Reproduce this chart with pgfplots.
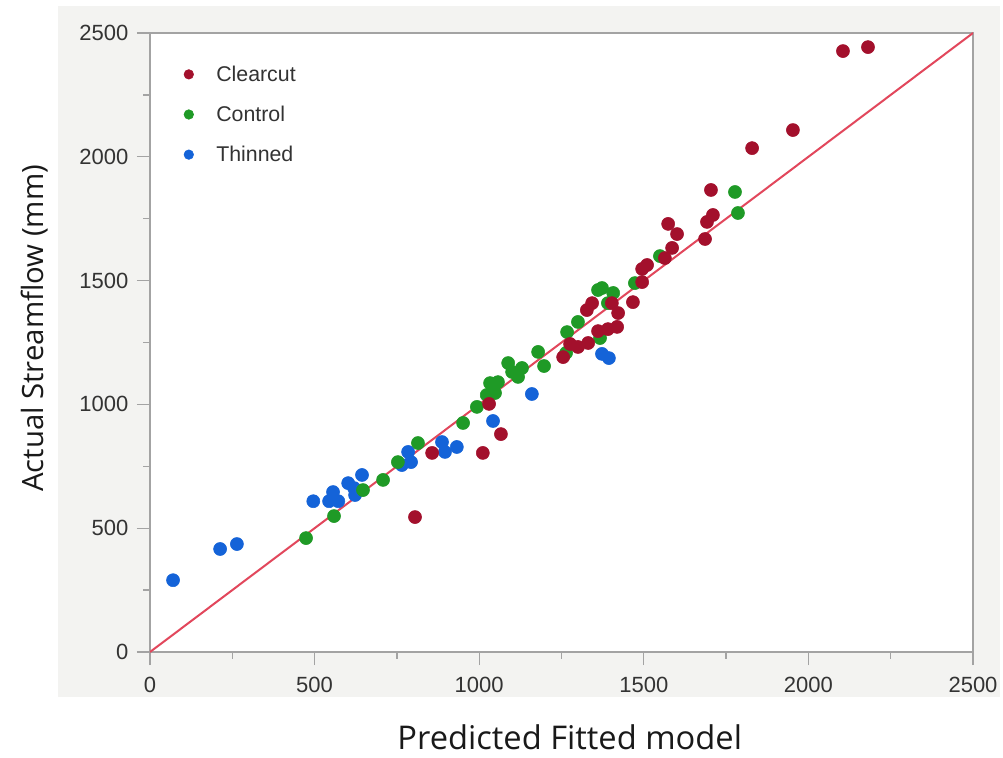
\documentclass[border=0pt]{standalone}
\usepackage{pgfplots}
\pgfplotsset{compat=1.18}
\usepackage{fontspec}
\setmainfont{Liberation Sans}
\newfontfamily\labelfont{Open Sans}
\definecolor{bgray}{HTML}{F3F3F1}
\definecolor{axgray}{HTML}{A3A3A3}
\definecolor{tickcol}{HTML}{333333}
\definecolor{cclear}{HTML}{A3102C}
\definecolor{ccontrol}{HTML}{1F9A26}
\definecolor{cthin}{HTML}{1463D8}
\definecolor{linecol}{HTML}{E2475C}
\begin{document}
\begin{tikzpicture}
\fill[bgray] (-69pt,-33.75pt) rectangle (637.5pt,484.5pt);
\begin{axis}[
  name=ax, at={(0,0)}, anchor=south west,
  scale only axis, width=617.25pt, height=464.25pt,
  xmin=0, xmax=2500, ymin=0, ymax=2500,
  xtick={0,500,...,2500}, ytick={0,500,...,2500},
  minor tick num=1,
  tick align=outside, xtick pos=lower, ytick pos=left,
  major tick length=9.75pt, minor tick length=5pt,
  axis line style={draw=axgray, line width=1.2pt},
  every tick/.style={draw=axgray, line width=1pt},
  ticklabel style={font=\fontsize{16.5}{18}\selectfont, text=tickcol},
  xticklabel style={yshift=-5.5pt},
  yticklabel style={xshift=-3pt},
  /pgf/number format/assume math mode=true,
  /pgf/number format/1000 sep={},
  axis background/.style={fill=white},
  xlabel={Predicted Fitted model},
  ylabel={Actual Streamflow (mm)},
  label style={text=black!90},
  xlabel style={font=\labelfont\fontsize{24.5}{28}\selectfont, at={(axis description cs:0.51,0)}, anchor=center, yshift=-64pt},
  ylabel style={font=\labelfont\fontsize{22}{26}\selectfont, at={(axis description cs:-0.1397,0.523)}, anchor=center},
  legend style={at={(axis description cs:0.041,0.952)}, anchor=north west, draw=none, fill=none,
    font=\fontsize{16}{18}\selectfont, text=tickcol, row sep=13pt, column sep=15pt, inner sep=0pt},
  legend cell align=left,
  legend image code/.code={\draw[#1] plot coordinates {(0.25cm,0cm)};},
]
\addlegendimage{only marks, mark=*, mark size=3.6pt, draw=cclear, fill=cclear}
\addlegendentry{Clearcut}
\addlegendimage{only marks, mark=*, mark size=3.6pt, draw=ccontrol, fill=ccontrol}
\addlegendentry{Control}
\addlegendimage{only marks, mark=*, mark size=3.6pt, draw=cthin, fill=cthin}
\addlegendentry{Thinned}

\addplot[forget plot, only marks, mark=*, mark size=4.9pt, draw=cthin, fill=cthin] coordinates {
(70,290) (213,416) (264,436) (496,609) (544,609) (556,646) (572,609) (602,682)
(620,662) (623,634) (644,715) (765,755) (784,808) (793,767) (887,848) (896,808)
(932,828) (1042,933) (1160,1042) (1373,1204) (1394,1187)
};
\addplot[forget plot, only marks, mark=*, mark size=4.9pt, draw=ccontrol, fill=ccontrol] coordinates {
(474,460) (559,549) (647,654) (708,695) (753,767) (814,844) (951,925) (993,990)
(1023,1038) (1033,1086) (1057,1090) (1048,1046) (1088,1167) (1100,1131) (1118,1111)
(1130,1147) (1179,1212) (1197,1155) (1264,1208) (1267,1292) (1300,1333) (1361,1462)
(1373,1470) (1407,1450) (1391,1409) (1367,1268) (1473,1490) (1549,1599) (1777,1858)
(1786,1773)
};
\addplot[forget plot, only marks, mark=*, mark size=4.9pt, draw=cclear, fill=cclear] coordinates {
(805,545) (857,804) (1011,804) (1030,1002) (1066,880) (1255,1191) (1276,1244)
(1300,1232) (1331,1248) (1361,1296) (1391,1304) (1419,1313) (1422,1369) (1327,1381)
(1343,1409) (1403,1409) (1467,1413) (1495,1494) (1495,1547) (1510,1563) (1564,1591)
(1586,1632) (1574,1729) (1601,1688) (1686,1668) (1692,1737) (1710,1765) (1704,1866)
(1829,2035) (1953,2108) (2105,2427) (2181,2443)
};
\addplot[forget plot, linecol, line width=1.5pt] coordinates {(0,0) (2500,2500)};
\end{axis}
\pgfresetboundingbox
\path[use as bounding box] (-112.5pt,-78.75pt) rectangle (639.75pt,489pt);
\end{tikzpicture}
\end{document}
